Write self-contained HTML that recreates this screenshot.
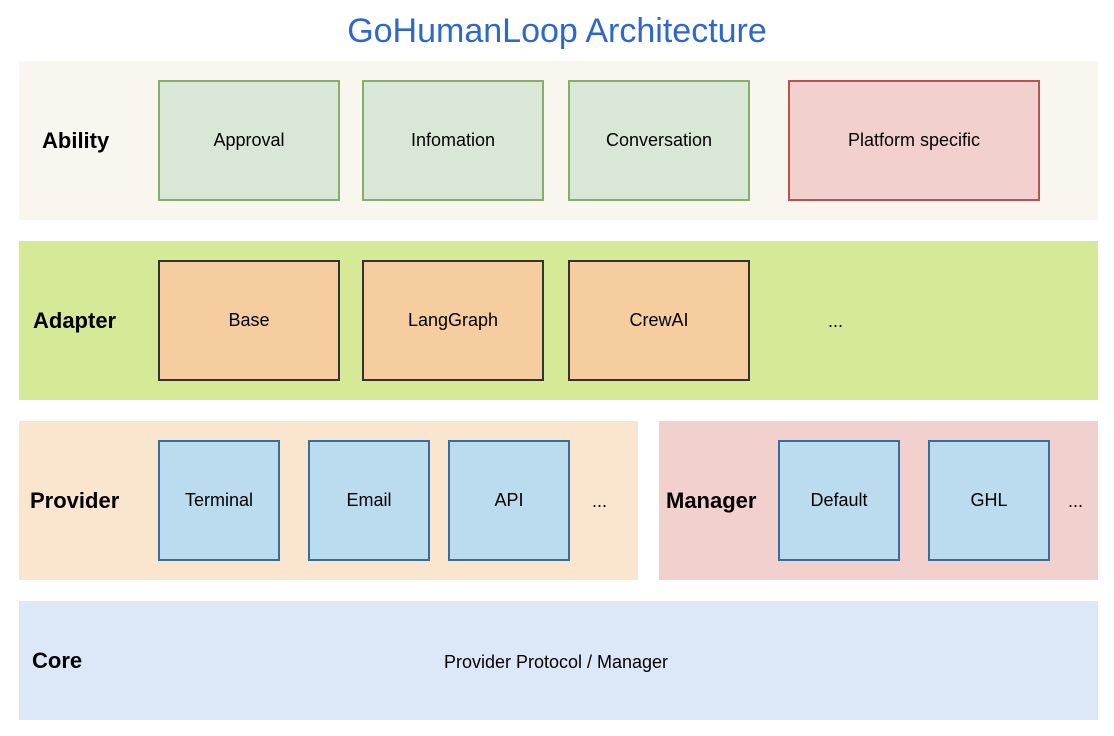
<!DOCTYPE html>
<html><head><style>
body{margin:0;width:1114px;height:736px;background:#fff;position:relative;font-family:"Liberation Sans",Arial,sans-serif;overflow:hidden}
.a{position:absolute;box-sizing:border-box;display:flex;align-items:center;justify-content:center;font-size:18px;color:#000}
.l{position:absolute;font-weight:bold;font-size:22px;color:#000}
.g{background:#d9e7d6;border:2px solid #86ae6b}
.r{background:#f2d0cd;border:2px solid #b85450}
.o{background:#f5cd9f;border:2px solid #333}
.b{background:#bbdbee;border:2px solid #3a6e9a}
.t{position:absolute;font-size:18px}
</style></head><body>
<div class="a" style="left:0;top:8px;width:1114px;height:46px;font-size:34px;color:#2e68c9">GoHumanLoop Architecture</div>
<div class="a" style="left:19px;top:61px;width:1079px;height:159px;background:#f8f6ef"></div>
<div class="a" style="left:19px;top:241px;width:1079px;height:159px;background:#d5e997"></div>
<div class="a" style="left:19px;top:421px;width:619px;height:159px;background:#fae6cf"></div>
<div class="a" style="left:659px;top:421px;width:439px;height:159px;background:#f2d0cd"></div>
<div class="a" style="left:19px;top:601px;width:1079px;height:119px;background:#dce7f7"></div>
<div class="l" style="left:42px;top:128px">Ability</div>
<div class="l" style="left:33px;top:308px">Adapter</div>
<div class="l" style="left:30px;top:488px">Provider</div>
<div class="l" style="left:666px;top:488px">Manager</div>
<div class="l" style="left:32px;top:648px">Core</div>
<div class="a g" style="left:158px;top:80px;width:182px;height:121px">Approval</div>
<div class="a g" style="left:362px;top:80px;width:182px;height:121px">Infomation</div>
<div class="a g" style="left:568px;top:80px;width:182px;height:121px">Conversation</div>
<div class="a r" style="left:788px;top:80px;width:252px;height:121px">Platform specific</div>
<div class="a o" style="left:158px;top:260px;width:182px;height:121px">Base</div>
<div class="a o" style="left:362px;top:260px;width:182px;height:121px">LangGraph</div>
<div class="a o" style="left:568px;top:260px;width:182px;height:121px">CrewAI</div>
<div class="t" style="left:828px;top:311px">...</div>
<div class="a b" style="left:158px;top:440px;width:122px;height:121px">Terminal</div>
<div class="a b" style="left:308px;top:440px;width:122px;height:121px">Email</div>
<div class="a b" style="left:448px;top:440px;width:122px;height:121px">API</div>
<div class="t" style="left:592px;top:491px">...</div>
<div class="a b" style="left:778px;top:440px;width:122px;height:121px">Default</div>
<div class="a b" style="left:928px;top:440px;width:122px;height:121px">GHL</div>
<div class="t" style="left:1068px;top:491px">...</div>
<div class="a" style="left:19px;top:642px;width:1074px;height:40px">Provider Protocol / Manager</div>
</body></html>
